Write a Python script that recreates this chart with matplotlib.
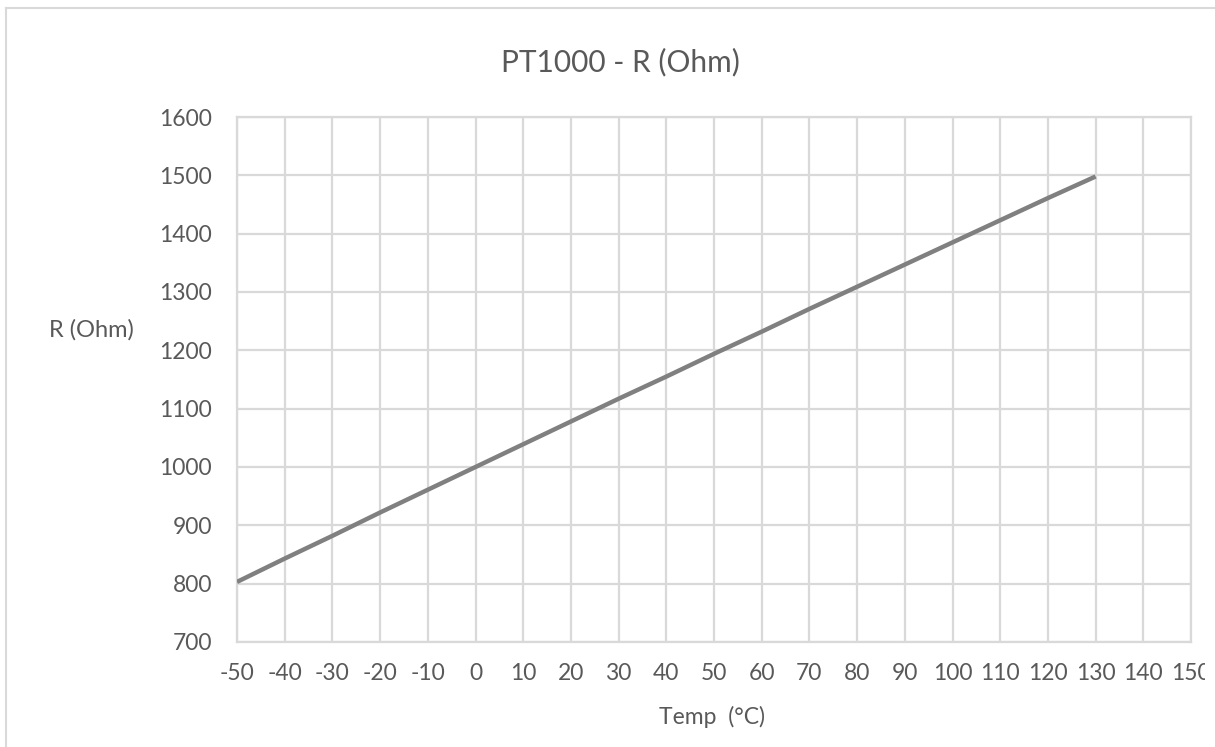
import matplotlib.pyplot as plt
from matplotlib.lines import Line2D
from matplotlib.transforms import Bbox, TransformedBbox

# PT1000 resistance vs temperature
temp_c = [-50, -40, -30, -20, -10, 0, 10, 20, 30, 40, 50, 60, 70, 80, 90, 100, 110, 120, 130]
r_ohm = [803, 843, 882, 922, 961, 1000, 1039, 1078, 1117, 1155, 1194, 1232, 1271,
         1309, 1347, 1385, 1423, 1461, 1498]

x_ticks = list(range(-50, 151, 10))
y_ticks = list(range(700, 1601, 100))

txt = '#595959'
grid = '#d9d9d9'
plt.rcParams['font.family'] = ['Lato', 'DejaVu Sans']
plt.rcParams['axes.unicode_minus'] = False

W, H = 1215, 747
fig = plt.figure(figsize=(W / 100, H / 100), dpi=100)
ax = fig.add_axes([237 / W, (H - 642) / H, (1191 - 237) / W, (642 - 117) / H])

ax.plot(temp_c, r_ohm, color='#808080', linewidth=3.2, solid_capstyle='butt', zorder=3)

ax.set_xlim(-50, 150)
ax.set_ylim(700, 1600)
ax.set_xticks(x_ticks)
ax.set_yticks(y_ticks)
ax.grid(True, color=grid, linewidth=1.6)
ax.set_axisbelow(True)
for s in ax.spines.values():
    s.set_color(grid)
    s.set_linewidth(1.6)
ax.tick_params(length=0, labelsize=16.5, labelcolor=txt)
ax.tick_params(axis='x', pad=15)
ax.tick_params(axis='y', pad=18)

# last label is cut by the image edge
clip = TransformedBbox(Bbox([[0, 0], [1205 / W, 1]]), fig.transFigure)
for lbl in ax.get_xticklabels():
    lbl.set_clip_box(clip)
    lbl.set_clip_on(True)

fig.text(620 / W, 1 - 62 / H, 'PT1000 - R (Ohm)', ha='center', va='center', fontsize=21.5, color=txt)
fig.text(91 / W, 1 - 330 / H, 'R (Ohm)', ha='center', va='center', fontsize=17, color=txt)
fig.text(712 / W, 1 - 717 / H, 'Temp  (°C)', ha='center', va='center', fontsize=16.5, color=txt)

# chart frame (only top and left edges are visible)
fig.add_artist(Line2D([6 / W, 1], [1 - 8 / H, 1 - 8 / H], color=grid, linewidth=1.5))
fig.add_artist(Line2D([6 / W, 6 / W], [0, 1 - 8 / H], color=grid, linewidth=1.5))

fig.savefig('out.png', dpi=100)
